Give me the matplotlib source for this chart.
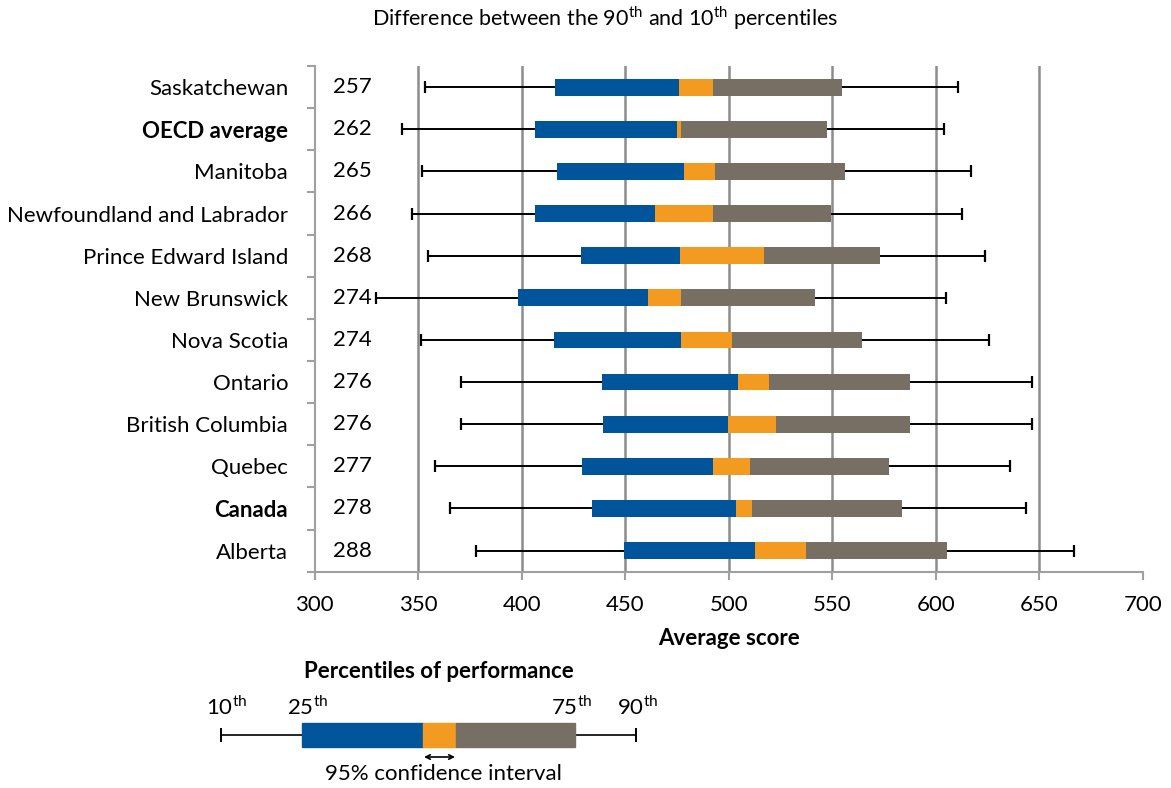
import matplotlib
matplotlib.use("Agg")
import matplotlib.pyplot as plt
import numpy as np

plt.rcParams['font.family'] = ['Lato', 'DejaVu Sans']
plt.rcParams['mathtext.fontset'] = 'custom'
plt.rcParams['mathtext.rm'] = 'Lato'

# data (top to bottom)
regions = ['Saskatchewan', 'OECD average', 'Manitoba', 'Newfoundland and Labrador',
           'Prince Edward Island', 'New Brunswick', 'Nova Scotia', 'Ontario',
           'British Columbia', 'Quebec', 'Canada', 'Alberta']
gap_90_10 = [257, 262, 265, 266, 268, 274, 274, 276, 276, 277, 278, 288]
p10 = [353.4, 342.1, 351.9, 347.0, 354.8, 329.9, 351.3, 370.9, 370.6, 358.2, 365.4, 378.2]
p25 = [415.9, 406.7, 417.0, 406.4, 428.8, 398.1, 415.6, 438.6, 439.2, 429.3, 434.2, 449.3]
ci_low = [476.2, 474.9, 478.6, 464.6, 476.5, 461.2, 477.1, 504.3, 499.8, 492.2, 503.5, 512.5]
ci_high = [492.6, 476.8, 493.5, 492.6, 516.8, 477.1, 501.4, 519.6, 522.6, 510.4, 511.4, 537.3]
p75 = [554.8, 547.7, 556.2, 549.3, 572.9, 541.6, 564.3, 587.6, 587.6, 577.6, 583.6, 605.3]
p90 = [610.9, 604.0, 617.1, 612.6, 623.6, 604.8, 625.5, 646.5, 646.5, 635.8, 643.6, 666.6]
bold_rows = ['OECD average', 'Canada']

blue = '#00559A'
orange = '#F39A21'
grey = '#776E64'
axis_grey = '#A0A0A0'
fs = 16

fig = plt.figure(figsize=(11.71, 7.88), dpi=100)
ax = fig.add_axes([0.2686, 0.2745, 0.7074, 0.6417])

y = np.arange(len(regions))
p10 = np.array(p10); p25 = np.array(p25); p75 = np.array(p75); p90 = np.array(p90)
ci_low = np.array(ci_low); ci_high = np.array(ci_high)

h = 0.4
ax.hlines(y, p10, p25, color='black', lw=1.4, zorder=3)
ax.hlines(y, p75, p90, color='black', lw=1.4, zorder=3)
ax.plot(p10, y, ls='none', marker='|', ms=9, mew=1.6, color='black', zorder=3)
ax.plot(p90, y, ls='none', marker='|', ms=9, mew=1.6, color='black', zorder=3)
ax.barh(y, ci_low - p25, left=p25, height=h, color=blue, zorder=4)
ax.barh(y, ci_high - ci_low, left=ci_low, height=h, color=orange, zorder=4)
ax.barh(y, p75 - ci_high, left=ci_high, height=h, color=grey, zorder=4)

for yi, g in zip(y, gap_90_10):
    ax.text(0.022, yi, str(g), transform=ax.get_yaxis_transform(),
            ha='left', va='center', fontsize=fs)

ax.set_xlim(300, 700)
ax.set_ylim(len(regions) - 0.5, -0.5)
ax.set_xticks(np.arange(300, 701, 50))
ax.tick_params(axis='x', length=6, width=1.5, color=axis_grey, labelsize=fs, pad=11)
for gx in range(350, 700, 50):
    ax.axvline(gx, color='#8C8C8C', lw=1.8, zorder=1)

ax.set_yticks(y)
ax.set_yticklabels(regions)
ax.set_yticks(np.arange(-0.5, len(regions), 1), minor=True)
ax.tick_params(axis='y', which='major', length=0, labelsize=fs, pad=19)
ax.tick_params(axis='y', which='minor', length=6, width=1.5, color=axis_grey)
for lbl in ax.get_yticklabels():
    if lbl.get_text() in bold_rows:
        lbl.set_fontweight('bold')

for s in ['top', 'right']:
    ax.spines[s].set_visible(False)
for s in ['left', 'bottom']:
    ax.spines[s].set_color(axis_grey)
    ax.spines[s].set_linewidth(1.5)

ax.set_xlabel('Average score', fontsize=fs, fontweight='bold', labelpad=9)

fig.text(0.517, 0.977, r'Difference between the 90$^{\mathrm{th}}$ and 10$^{\mathrm{th}}$ percentiles',
         ha='center', va='center', fontsize=15.5)

# legend key drawn in pixel space
lg = fig.add_axes([0, 0, 1, 1], zorder=-1)
lg.set_xlim(0, 1171)
lg.set_ylim(788, 0)
lg.axis('off')
lg.text(439, 671, 'Percentiles of performance', ha='center', va='center',
        fontsize=fs, fontweight='bold')
lg.hlines(735, 221, 636, color='black', lw=1.2, zorder=1)
lg.vlines([221, 636], 728, 742, color='black', lw=1.4, zorder=1)
lg.add_patch(plt.Rectangle((302, 723), 121, 24, color=blue, zorder=3))
lg.add_patch(plt.Rectangle((423, 723), 33, 24, color=orange, zorder=3))
lg.add_patch(plt.Rectangle((456, 723), 119, 24, color=grey, zorder=3))
for lx, txt in [(227, '10'), (308, '25'), (572, '75'), (638, '90')]:
    lg.text(lx, 707, txt + r'$^{\mathrm{th}}$', ha='center', va='center', fontsize=fs)
lg.annotate('', xy=(424, 757), xytext=(455, 757),
            arrowprops=dict(arrowstyle='<->', color='black', lw=1.2, shrinkA=0, shrinkB=0,
                            mutation_scale=8))
lg.text(443, 774, '95% confidence interval', ha='center', va='center', fontsize=fs)

fig.savefig('out.png', dpi=100)
